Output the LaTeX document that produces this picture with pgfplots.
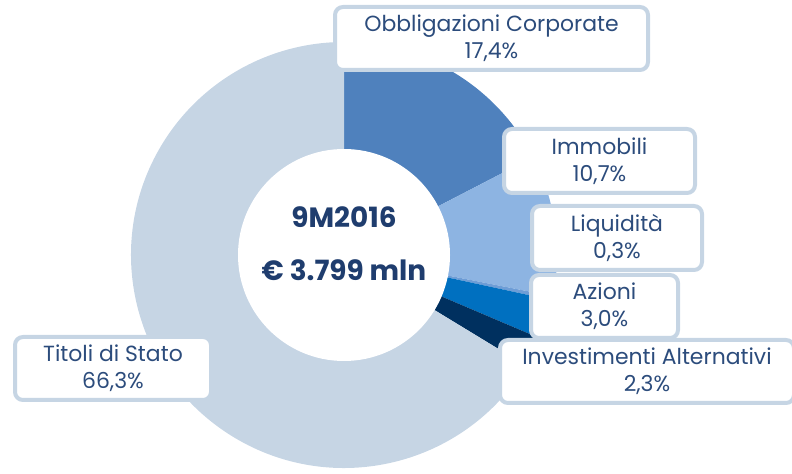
\documentclass[border=0pt]{standalone}
\usepackage{pgfplots}
\pgfplotsset{compat=1.18}
\usepackage{pgfplotstable}
\usepackage{fontspec}
\setmainfont{Poppins}
\definecolor{pc0}{HTML}{4F81BD}
\definecolor{pc1}{HTML}{8DB4E2}
\definecolor{pc2}{HTML}{6E9DD6}
\definecolor{pc3}{HTML}{0070C0}
\definecolor{pc4}{HTML}{00305F}
\definecolor{pc5}{HTML}{C6D5E4}
\definecolor{ctext}{HTML}{2C4C7C}
\definecolor{ctitle}{HTML}{1F3D6E}

\pgfplotstableread{
name pct
Obbligazioni 17.4
Immobili 10.7
Liquidita 0.3
Azioni 3.0
Alternativi 2.3
Titoli 66.3
}\piedata

\begin{document}
\begin{tikzpicture}
\useasboundingbox (0,0) rectangle (792bp,474bp);
\begin{axis}[at={(0,0)}, anchor=south west, width=792bp, height=474bp,
  scale only axis, xmin=0, xmax=792, ymin=0, ymax=474, hide axis, clip=false]
\gdef\cur{90}
\pgfplotsforeachungrouped \i in {0,...,5}{%
  \pgfplotstablegetelem{\i}{pct}\of\piedata
  \pgfmathsetmacro\nxt{\cur-3.6*\pgfplotsretval}%
  \edef\tmp{\noexpand\fill[pc\i] (axis cs:344,219) -- ++(\cur:213bp) arc[start angle=\cur, end angle=\nxt, radius=213bp] -- cycle;}%
  \tmp
  \global\let\cur\nxt
}
\fill[white] (axis cs:344,219) circle[radius=106bp];
\node[font=\bfseries\fontsize{28}{32}\selectfont, text=ctitle] at (axis cs:344,257) {9M2016};
\node[font=\bfseries\fontsize{28}{32}\selectfont, text=ctitle] at (axis cs:344,204) {€ 3.799 mln};
\tikzset{lbl/.style={draw=pc5, line width=4bp, fill=white, rounded corners=8bp,
  text=ctext, font=\fontsize{22}{27}\selectfont, align=center, inner sep=0pt}}
\node[lbl, minimum width=313bp, minimum height=63bp] at (axis cs:491.5,435.5) {Obbligazioni Corporate\\17,4\%};
\node[lbl, minimum width=191bp, minimum height=64bp] at (axis cs:599.5,313) {Immobili\\10,7\%};
\node[lbl, minimum width=170bp, minimum height=64bp] at (axis cs:617,236) {Liquidità\\0,3\%};
\node[lbl, minimum width=147bp, minimum height=63bp] at (axis cs:604.5,167.5) {Azioni\\3,0\%};
\node[lbl, minimum width=294bp, minimum height=63bp] at (axis cs:647,102.5) {Investimenti Alternativi\\2,3\%};
\node[lbl, minimum width=196bp, minimum height=63bp] at (axis cs:113,105.5) {Titoli di Stato\\66,3\%};
\end{axis}
\end{tikzpicture}
\end{document}
